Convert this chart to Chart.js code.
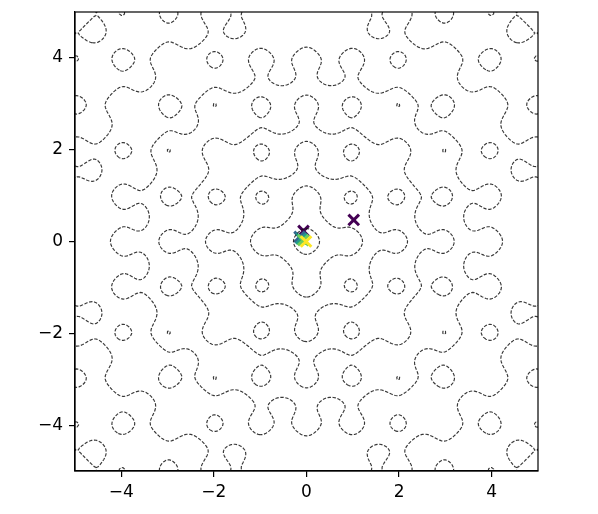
<!DOCTYPE html>
<html>
<head>
<meta charset="utf-8">
<script src="https://cdn.jsdelivr.net/npm/chart.js@4.4.1/dist/chart.umd.min.js"></script>
<style>
  html, body { margin: 0; padding: 0; background: #fff; }
  #wrap { width: 598px; height: 514px; position: relative; }
</style>
</head>
<body>
<div id="wrap"><canvas id="c"></canvas></div>
<script>
// contour levels of the surface
var levels = [2, 4, 6, 8, 10, 12, 14];
// surface parameters (Ackley)
var ackA = 20, ackB = 0.2, ackC = 2 * Math.PI;
// markers
var markX = [1.02, -0.065, -0.15, -0.11, -0.07, -0.01];
var markY = [0.47, 0.23, 0.10, 0.06, 0.03, 0.0];
var markC = [0.0, 0.05, 0.3, 0.55, 0.75, 1.0];
var xTicks = [-4, -2, 0, 2, 4];
var yTicks = [-4, -2, 0, 2, 4];
var xMin = -5, xMax = 5, yMin = -5, yMax = 5;

function surface(x, y) {
  var r = Math.sqrt(0.5 * (x * x + y * y));
  return -ackA * Math.exp(-ackB * r) - Math.exp(0.5 * (Math.cos(ackC * x) + Math.cos(ackC * y))) + Math.E + ackA;
}

var N = 241;
var GX = [], GY = [], Z = [];
for (var i = 0; i < N; i++) { GX.push(xMin + (xMax - xMin) * i / (N - 1)); GY.push(yMin + (yMax - yMin) * i / (N - 1)); }
for (var j = 0; j < N; j++) {
  var row = [];
  for (var i = 0; i < N; i++) row.push(surface(GX[i], GY[j]));
  Z.push(row);
}

function contourChains(L) {
  var segs = [], pts = {}, byKey = {};
  function addSeg(ka, kb) {
    var id = segs.length;
    segs.push([ka, kb]);
    (byKey[ka] = byKey[ka] || []).push(id);
    (byKey[kb] = byKey[kb] || []).push(id);
  }
  for (var j = 0; j < N - 1; j++) {
    for (var i = 0; i < N - 1; i++) {
      var z0 = Z[j][i], z1 = Z[j][i + 1], z2 = Z[j + 1][i + 1], z3 = Z[j + 1][i];
      var a0 = z0 > L, a1 = z1 > L, a2 = z2 > L, a3 = z3 > L;
      var e = [];
      if (a0 !== a1) { var k = 'h' + i + '_' + j; pts[k] = { x: GX[i] + (L - z0) / (z1 - z0) * (GX[i + 1] - GX[i]), y: GY[j] }; e[0] = k; }
      if (a1 !== a2) { var k = 'v' + (i + 1) + '_' + j; pts[k] = { x: GX[i + 1], y: GY[j] + (L - z1) / (z2 - z1) * (GY[j + 1] - GY[j]) }; e[1] = k; }
      if (a3 !== a2) { var k = 'h' + i + '_' + (j + 1); pts[k] = { x: GX[i] + (L - z3) / (z2 - z3) * (GX[i + 1] - GX[i]), y: GY[j + 1] }; e[2] = k; }
      if (a0 !== a3) { var k = 'v' + i + '_' + j; pts[k] = { x: GX[i], y: GY[j] + (L - z0) / (z3 - z0) * (GY[j + 1] - GY[j]) }; e[3] = k; }
      var ks = e.filter(function(v) { return v; });
      if (ks.length === 2) addSeg(ks[0], ks[1]);
      else if (ks.length === 4) {
        var zc = (z0 + z1 + z2 + z3) / 4;
        if ((zc > L) === a0) { addSeg(e[0], e[1]); addSeg(e[2], e[3]); }
        else { addSeg(e[0], e[3]); addSeg(e[1], e[2]); }
      }
    }
  }
  var used = new Uint8Array(segs.length);
  function extend(list, key) {
    while (true) {
      var next = -1, ids = byKey[key];
      for (var n = 0; n < ids.length; n++) if (!used[ids[n]]) { next = ids[n]; break; }
      if (next < 0) break;
      used[next] = 1;
      key = segs[next][0] === key ? segs[next][1] : segs[next][0];
      list.push(key);
    }
  }
  var chains = [];
  for (var s = 0; s < segs.length; s++) {
    if (used[s]) continue;
    used[s] = 1;
    var fwd = [segs[s][0], segs[s][1]];
    extend(fwd, segs[s][1]);
    var bk = [];
    extend(bk, segs[s][0]);
    var keys = bk.reverse().concat(fwd);
    chains.push(keys.map(function(k) { return pts[k]; }));
  }
  return chains;
}

var viridis = ['#440154', '#482878', '#3e4989', '#31688e', '#26828e', '#1f9e89', '#35b779', '#6ece58', '#b5de2b', '#fde725'];
function cmap(v) { return viridis[Math.min(viridis.length - 1, Math.round(v * (viridis.length - 1)))]; }

var datasets = [];
levels.forEach(function(L) {
  contourChains(L).forEach(function(ch) {
    datasets.push({
      data: ch, showLine: true, pointRadius: 0, borderColor: 'rgba(20,20,20,0.85)',
      borderWidth: 1.15, borderDash: [3.4, 1.6], tension: 0, fill: false
    });
  });
});
datasets.push({
  data: markX.map(function(x, k) { return { x: x, y: markY[k] }; }),
  showLine: false, pointStyle: 'crossRot', pointRadius: 7.5, pointBorderWidth: 3,
  pointBorderColor: markC.map(cmap), pointBackgroundColor: markC.map(cmap)
});

function fmt(v) { return v < 0 ? '\u2212' + Math.abs(v) : String(v); }
var tickFont = { family: 'DejaVu Sans', size: 17 };

var frame = {
  id: 'frame',
  afterDraw: function(chart) {
    var a = chart.chartArea, ctx = chart.ctx;
    ctx.save();
    ctx.strokeStyle = '#000';
    ctx.lineWidth = 1.2;
    ctx.strokeRect(a.left, a.top, a.right - a.left, a.bottom - a.top);
    ctx.restore();
  }
};

new Chart(document.getElementById('c'), {
  type: 'scatter',
  data: { datasets: datasets },
  plugins: [frame],
  options: {
    responsive: true, maintainAspectRatio: false, animation: false, events: [],
    layout: { padding: { left: 0, right: 60, top: 12, bottom: 0 } },
    plugins: { legend: { display: false }, tooltip: { enabled: false } },
    scales: {
      x: {
        type: 'linear', min: xMin, max: xMax,
        afterBuildTicks: function(s) { s.ticks = xTicks.map(function(v) { return { value: v }; }); },
        afterFit: function(s) { s.height = 43; s.paddingLeft = 0; s.paddingRight = 0; },
        ticks: { color: '#000', font: tickFont, padding: 5, maxRotation: 0, callback: function(v) { return fmt(v); } },
        grid: { drawOnChartArea: false, drawTicks: true, tickLength: 6, color: '#000', lineWidth: 1.2 },
        border: { display: true, color: '#000', width: 1.2 }
      },
      y: {
        type: 'linear', min: yMin, max: yMax,
        afterBuildTicks: function(s) { s.ticks = yTicks.map(function(v) { return { value: v }; }); },
        afterFit: function(s) { s.width = 75; s.paddingTop = 0; s.paddingBottom = 0; },
        ticks: { color: '#000', font: tickFont, padding: 6, callback: function(v) { return fmt(v); } },
        grid: { drawOnChartArea: false, drawTicks: true, tickLength: 6, color: '#000', lineWidth: 1.2 },
        border: { display: true, color: '#000', width: 1.2 }
      }
    }
  }
});
</script>
</body>
</html>
